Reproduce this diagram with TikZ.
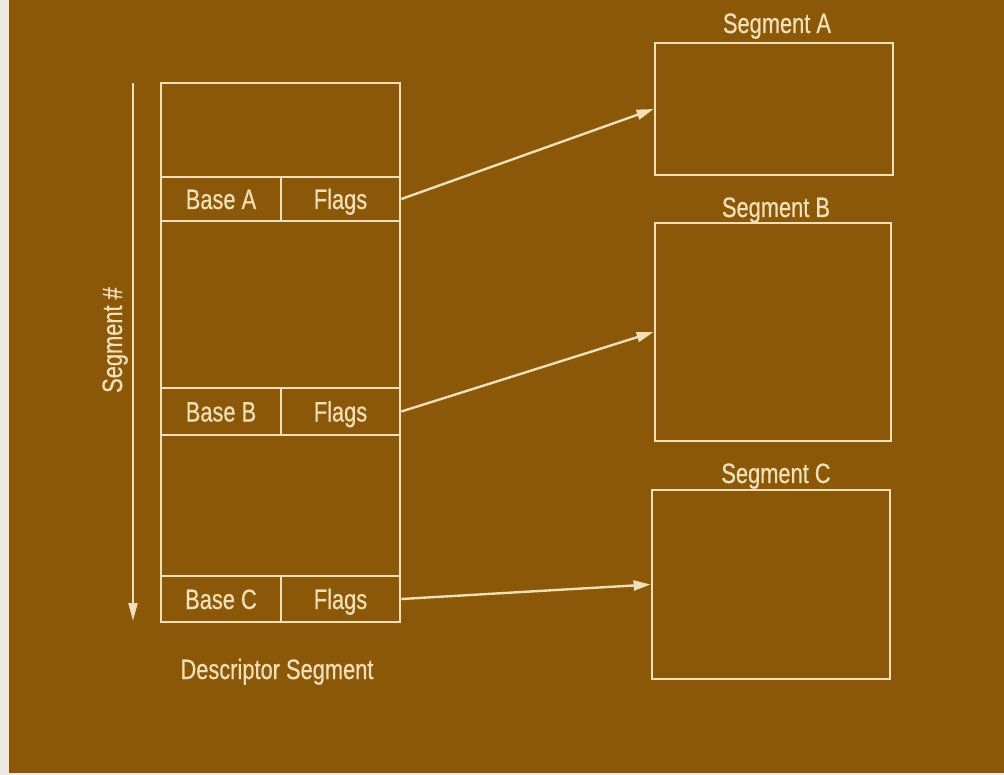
\documentclass[tikz,border=0pt]{standalone}
\usepackage{fontspec}
\setmainfont{Liberation Sans}[FakeStretch=0.78,FakeBold=0.6]
\usetikzlibrary{arrows.meta}
\definecolor{bgbrown}{HTML}{8A5808}
\definecolor{ink}{HTML}{F1DFB6}
\definecolor{edge}{HTML}{ECE9E2}
\tikzset{
  cell/.style={draw=ink, line width=2.8pt, inner sep=0pt, text=ink, text height=20pt, text depth=0pt},
  lbl/.style={text=ink, inner sep=0pt, text height=20pt, text depth=0pt},
  link/.style={draw=ink, line width=2.4pt, -{Triangle[length=17pt,width=10pt]}},
}
\begin{document}
\begin{tikzpicture}[x=1pt,y=-1pt,font=\fontsize{28}{31}\selectfont]
\useasboundingbox (0,0) rectangle (1004,775);
\fill[edge] (0,0) rectangle (1004,775);
\fill[bgbrown] (9,0) rectangle (1004,773);
% descriptor table
\node[cell, minimum width=239pt, minimum height=94pt] (top) at (280.5,130) {};
\node[cell, minimum width=120pt, minimum height=44pt] (baseA) at (221,199) {Base A};
\node[cell, minimum width=119pt, minimum height=44pt] (flagsA) at (340.5,199) {Flags};
\node[cell, minimum width=239pt, minimum height=167pt] (mid1) at (280.5,304.5) {};
\node[cell, minimum width=120pt, minimum height=47pt] (baseB) at (221,411.5) {Base B};
\node[cell, minimum width=119pt, minimum height=47pt] (flagsB) at (340.5,411.5) {Flags};
\node[cell, minimum width=239pt, minimum height=141pt] (mid2) at (280.5,505.5) {};
\node[cell, minimum width=120pt, minimum height=46pt] (baseC) at (221,599) {Base C};
\node[cell, minimum width=119pt, minimum height=46pt] (flagsC) at (340.5,599) {Flags};
\node[lbl] (desclbl) at (277,669) {Descriptor Segment};
% segment number arrow
\coordinate (snTop) at (133,83);
\coordinate (snBot) at (133,621);
\draw[draw=ink, line width=2.4pt, -{Triangle[length=18pt,width=9pt]}] (snTop) -- (snBot);
\node[lbl, rotate=90] (snlbl) at (112,340) {Segment \#};
% segments
\node[cell, minimum width=238pt, minimum height=132pt] (segA) at (774,109) {};
\node[lbl] (segAlbl) at (777,23) {Segment A};
\node[cell, minimum width=236pt, minimum height=218pt] (segB) at (773,332) {};
\node[lbl] (segBlbl) at (776,207) {Segment B};
\node[cell, minimum width=238pt, minimum height=189pt] (segC) at (771,584.5) {};
\node[lbl] (segClbl) at (776,473) {Segment C};
% links
\draw[link] (flagsA.east) -- (segA.west);
\draw[link] (flagsB.east) -- (segB.west);
\draw[link] (flagsC.east) -- (segC.west);
\end{tikzpicture}
\end{document}
